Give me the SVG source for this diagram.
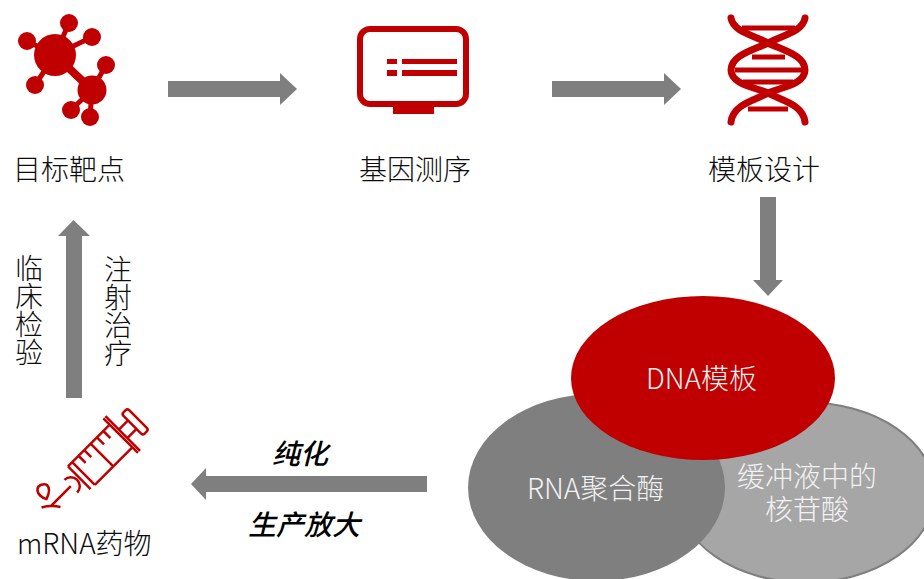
<svg xmlns="http://www.w3.org/2000/svg" width="924" height="579" viewBox="0 0 924 579">
<style>
text{font-family:"Noto Sans CJK SC","Noto Sans",sans-serif;font-weight:300;font-size:28px;fill:#0d0d0d}
.w{fill:#f2f2f2;font-size:28px}
.b{font-weight:500;font-style:italic;font-size:28px;fill:#000}
.v{writing-mode:vertical-rl}
.r{fill:#c00000}
.l{stroke:#c00000;fill:none}
.a{fill:#7f7f7f}
</style>
<rect width="924" height="579" fill="#fff"/>
<g id="connectors">
<path class="a" d="M168 81H280V73L297 89L280 105V97H168Z"/>
<path class="a" d="M552 81H664V73L681 89L664 105V97H552Z"/>
<path class="a" d="M760 197H776V280H783L768 296L753 280H760Z"/>
<path class="a" d="M427 476H206V468L191 484L206 500V492H427Z"/>
<path class="a" d="M66 398V236H58L73.500 220L90 236H82V398Z"/>
</g>
<g id="node-target">
<g class="r"><circle cx="55" cy="55" r="21"/><circle cx="69" cy="23" r="9"/><circle cx="27" cy="41" r="9"/><circle cx="92" cy="37" r="9"/><circle cx="35" cy="85" r="9"/><circle cx="106" cy="65" r="9"/><circle cx="92" cy="90" r="14.500"/><circle cx="71" cy="110" r="9"/><circle cx="90" cy="117" r="9"/></g>
<path class="l" stroke-width="5" d="M55 55L69 23M55 55L27 41M55 55L92 37M55 55L35 85M92 90L106 65M92 90L71 110M92 90L90 117"/>
<path class="l" stroke-width="8" d="M55 55L92 90"/>
<text x="13" y="180">目标靶点</text>
</g>
<g id="node-sequencing">
<rect class="l" x="360" y="29" width="106" height="75" rx="10" stroke-width="6"/>
<path class="r" d="M393 106H434V114H393ZM387 59H397V64H387ZM387 70H397V76H387ZM402 59H457V64H402ZM402 70H457V76H402Z"/>
<text x="359" y="180">基因测序</text>
</g>
<g id="node-template">
<path class="l" stroke-width="7" stroke-linecap="round" d="M731 18C733 32 756 36 768 43C782 50 805 55 805 70C805 84 782 87 768 93C756 100 733 104 731 122"/>
<path class="l" stroke-width="7" stroke-linecap="round" d="M805 18C803 32 780 36 768 43C754 50 731 55 731 70C731 84 754 87 768 93C780 100 803 104 805 122"/>
<path class="l" stroke-width="5" d="M742 28H795M752 57H785M735 70H802M743 82H793M748 109H788"/>
<text x="708" y="180">模板设计</text>
</g>
<g id="node-mrna">
<g transform="translate(51 506) rotate(-45)">
<path class="l" stroke-width="2.500" d="M0 0H28M28 -9A9 9 0 0 1 28 9M40 -16V16M46 -16V16M40 -16H99M46 16H99M99 -25V24M102 -25V24M72 -15V15M55 -15V-6M63 -15V-6M81 -15V-6M90 -15V-6M102 -6H115M102 6H115"/>
<rect class="l" x="115" y="-15" width="8" height="30" rx="2.500" stroke-width="2.500"/>
</g>
<path class="l" stroke-width="2.500" d="M46.500 499C42 498 37 494 37.500 489C38 485 44 483 47 485C50 488 49 494 46.500 499ZM41.500 507.500Q51 505 60.500 507"/>
<text x="17" y="554">mRNA药物</text>
</g>
<g id="node-qc"><text class="v" x="29" y="254">临床检验</text></g>
<g id="node-injection"><text class="v" x="118" y="255">注射治疗</text></g>
<g id="node-buffer">
<ellipse cx="806" cy="492.500" rx="129" ry="90" fill="#a6a6a6" stroke="#7f7f7f" stroke-width="2"/>
<text class="w"><tspan x="737" y="487">缓冲液中的</tspan><tspan x="765" y="520">核苷酸</tspan></text>
</g>
<g id="node-rna">
<ellipse cx="596.500" cy="487.500" rx="128.500" ry="93.500" fill="#7f7f7f"/>
<text class="w" x="527" y="499">RNA聚合酶</text>
</g>
<g id="node-dna">
<ellipse cx="703" cy="378" rx="132" ry="82" fill="#c00000"/>
<text class="w" x="646" y="389">DNA模板</text>
</g>
<g id="node-labels"><text class="b" x="272" y="464">纯化</text><text class="b" x="248" y="535">生产放大</text></g>
</svg>
